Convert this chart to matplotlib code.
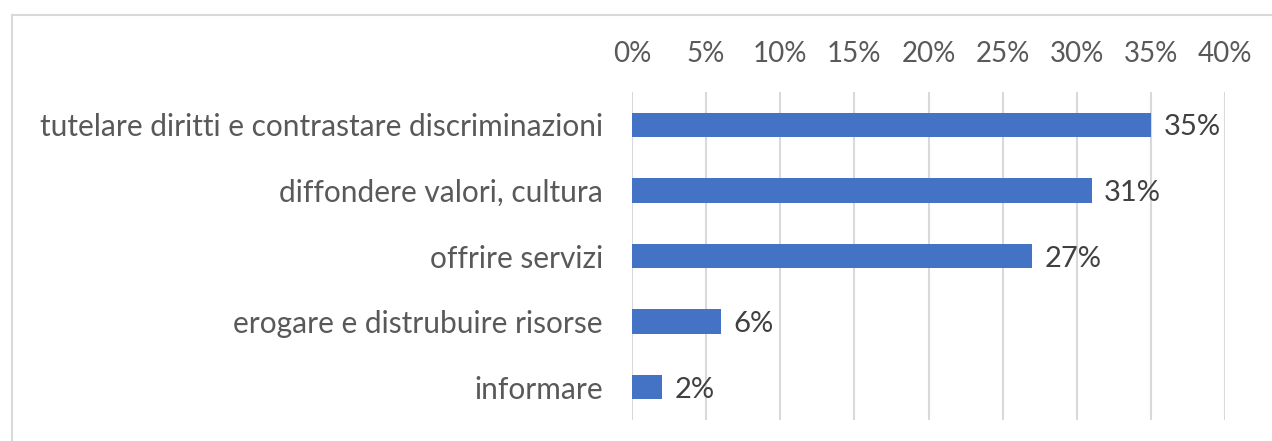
import matplotlib.pyplot as plt
from matplotlib.ticker import PercentFormatter
from matplotlib.lines import Line2D

categories = ['tutelare diritti e contrastare discriminazioni',
              'diffondere valori, cultura',
              'offrire servizi',
              'erogare e distrubuire risorse',
              'informare']
values = [35, 31, 27, 6, 2]
ticks = [0, 5, 10, 15, 20, 25, 30, 35, 40]

plt.rcParams['font.family'] = ['Lato', 'DejaVu Sans']

W, H = 1272, 441
fig = plt.figure(figsize=(W / 100, H / 100), dpi=100)
ax = fig.add_axes([632 / W, 1 - 420 / H, (1225 - 632) / W, (420 - 92) / H])

ypos = range(len(categories))
ax.barh(ypos, values, height=0.37, color='#4472C4', zorder=3)
for y, v in zip(ypos, values):
    ax.text(v + 0.85, y + 0.04, f'{v}%', va='center', ha='left', fontsize=21, color='#404040')

ax.set_xlim(0, 40)
ax.set_ylim(len(categories) - 0.5, -0.5)
ax.set_xticks(ticks)
ax.xaxis.set_major_formatter(PercentFormatter(decimals=0))
ax.xaxis.tick_top()
ax.set_yticks(list(ypos))
ax.set_yticklabels(categories)
ax.tick_params(axis='x', length=0, pad=18, labelsize=20, labelcolor='#595959')
ax.tick_params(axis='y', length=0, pad=21, labelsize=21.5, labelcolor='#595959')
ax.grid(axis='x', color='#d9d9d9', linewidth=1.5, zorder=0)
for s in ax.spines.values():
    s.set_visible(False)

# partial chart border (top and left edges visible)
fig.add_artist(Line2D([12 / W, 12 / W], [0, 1 - 15 / H], color='#d9d9d9', lw=1.5))
fig.add_artist(Line2D([12 / W, 1], [1 - 15 / H, 1 - 15 / H], color='#d9d9d9', lw=1.5))

fig.savefig('out.png', dpi=100)
